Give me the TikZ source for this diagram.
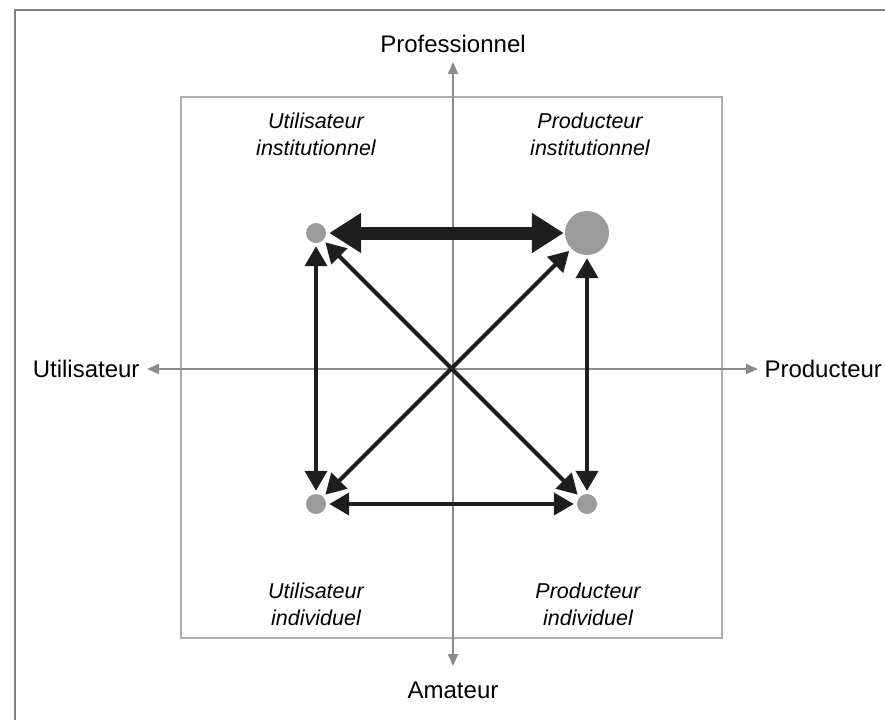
\documentclass[tikz,border=0pt]{standalone}
\usepackage{fontspec}
\setmainfont{Liberation Sans}
\usetikzlibrary{arrows.meta}
\definecolor{dotgray}{HTML}{9B9B9B}
\definecolor{axgray}{HTML}{8C8C8C}
\definecolor{boxgray}{HTML}{AEAEAE}
\definecolor{framegray}{HTML}{808080}
\definecolor{arrdark}{HTML}{1E1E1E}
\tikzset{
  dot/.style={circle,fill=dotgray,draw=none,inner sep=0pt,minimum size=20pt},
  bigdot/.style={circle,fill=dotgray,draw=none,inner sep=0pt,minimum size=44pt},
  axis/.style={draw=axgray,line width=2pt,{Triangle[length=12pt,width=10pt]}-{Triangle[length=12pt,width=10pt]}},
  link/.style={draw=arrdark,line width=4pt,{Triangle[length=20pt,width=22pt]}-{Triangle[length=20pt,width=22pt]},shorten <=3pt,shorten >=3pt},
  biglink/.style={draw=arrdark,line width=13pt,{Triangle[length=32pt,width=38pt]}-{Triangle[length=32pt,width=38pt]},shorten <=3pt,shorten >=1pt},
  axlabel/.style={font=\fontsize{24}{28}\selectfont},
  quad/.style={font=\fontsize{21.5}{27}\selectfont\itshape,align=center}
}
\begin{document}
\begin{tikzpicture}[x=1pt,y=-1pt]
\useasboundingbox (0,0) rectangle (885,720);
% outer frame (top and left edges)
\draw[framegray,line width=1.5pt] (15,720) -- (15,10) -- (885,10);
% inner box
\draw[boxgray,line width=1.5pt] (181,97) rectangle (722,638);
% axes
\coordinate (atop) at (453,62);
\coordinate (abot) at (453,666);
\coordinate (aleft) at (147,369);
\coordinate (aright) at (758,369);
\draw[axis] (atop) -- (abot);
\draw[axis] (aleft) -- (aright);
% axis labels
\node[axlabel] (prof) at (453,44) {Professionnel};
\node[axlabel] (amat) at (453,690) {Amateur};
\node[axlabel,anchor=east] (util) at (143,369) {Utilisateur};
\node[axlabel,anchor=west] (prod) at (761,369) {Producteur};
% quadrant labels
\node[quad] (ui) at (316,134) {Utilisateur\\institutionnel};
\node[quad] (pi) at (590,134) {Producteur\\institutionnel};
\node[quad] (uv) at (316,604) {Utilisateur\\individuel};
\node[quad] (pv) at (588,604) {Producteur\\individuel};
% dots
\node[dot] (ul) at (316,233) {};
\node[bigdot] (ur) at (587,233) {};
\node[dot] (ll) at (316,504) {};
\node[dot] (lr) at (587,504) {};
% links
\draw[biglink] (ul) -- (ur);
\draw[link] (ul) -- (ll);
\draw[link] (ur) -- (lr);
\draw[link] (ll) -- (lr);
\draw[link] (ul) -- (lr);
\draw[link] (ll) -- (ur);
\end{tikzpicture}
\end{document}
